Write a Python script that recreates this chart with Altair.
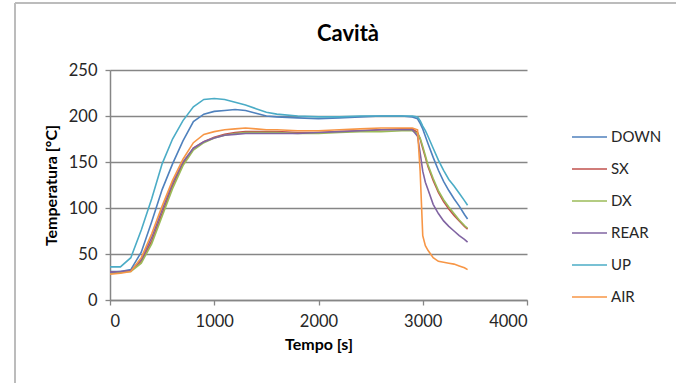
import altair as alt
import pandas as pd

series = ["DOWN", "SX", "DX", "REAR", "UP", "AIR"]
colors = ["#4F81BD", "#C0504D", "#9BBB59", "#8064A2", "#4BACC6", "#F79646"]

time_s = [0, 100, 200, 300, 400, 500, 600, 700, 800, 900, 1000, 1100, 1200, 1300,
          1400, 1500, 1600, 1800, 2000, 2200, 2400, 2600, 2800, 2900, 2950, 2975,
          3000, 3025, 3050, 3100, 3150, 3200, 3250, 3300, 3350, 3400, 3430]

down = [31, 31, 33, 52, 85, 120, 148, 173, 194, 202, 205, 206, 207, 206,
        203, 200, 199, 198, 197, 198, 199, 200, 200, 199, 197, 192,
        186, 178, 170, 155, 141, 129, 119, 110, 102, 93, 88]
sx = [30, 30, 32, 42, 64, 94, 124, 148, 165, 172, 177, 180, 182, 183,
      183, 183, 183, 182, 182, 183, 184, 185, 186, 186, 182, 175,
      165, 155, 145, 130, 117, 107, 99, 92, 86, 80, 77]
dx = [29, 30, 31, 40, 61, 91, 121, 146, 163, 171, 176, 179, 181, 182,
      182, 182, 182, 181, 181, 182, 183, 183, 184, 184, 181, 176,
      167, 157, 147, 132, 119, 109, 101, 94, 87, 81, 78]
rear = [30, 31, 32, 44, 68, 98, 127, 150, 165, 172, 176, 179, 180, 181,
        181, 181, 181, 181, 182, 183, 184, 185, 185, 185, 178, 160,
        140, 128, 120, 104, 94, 86, 80, 75, 70, 66, 63]
up = [36, 36, 46, 76, 110, 148, 175, 195, 210, 218, 219, 218, 215, 212,
      208, 204, 202, 200, 199, 199, 200, 200, 200, 200, 199, 195,
      189, 184, 178, 165, 152, 141, 131, 124, 116, 108, 103]
air = [28, 29, 31, 46, 72, 102, 130, 153, 171, 180, 183, 185, 186, 187,
       186, 185, 185, 184, 184, 185, 186, 187, 187, 187, 185, 140,
       70, 59, 54, 46, 42, 41, 40, 39, 37, 35, 33]

values = {"DOWN": down, "SX": sx, "DX": dx, "REAR": rear, "UP": up, "AIR": air}

rows = []
for i, name in enumerate(series):
    for t, v in zip(time_s, values[name]):
        rows.append({"Tempo": t, "Temp": v, "Serie": name, "idx": i})
df = pd.DataFrame(rows)

FONT = "Lato"
GRAY = "#868686"
LBL = "#262626"

axis_common = dict(
    labelFont=FONT, titleFont=FONT, labelFontSize=16.5, titleFontSize=16,
    labelColor=LBL, titleColor="#000", titleFontWeight="bold",
    domainColor=GRAY, tickColor=GRAY, gridColor=GRAY, domainWidth=1.5,
    tickWidth=1.3, gridWidth=1.3, gridOpacity=1, tickSize=5, format="d",
)

lines = alt.Chart(df).mark_line(strokeWidth=1.6).encode(
    x=alt.X("Tempo:Q",
            scale=alt.Scale(domain=[0, 4000], nice=False),
            axis=alt.Axis(title="Tempo [s]", values=[0, 1000, 2000, 3000, 4000],
                          grid=False, labelPadding=8, titlePadding=7,
                          **axis_common)),
    y=alt.Y("Temp:Q",
            scale=alt.Scale(domain=[0, 250], nice=False),
            axis=alt.Axis(title="Temperatura [°C]", values=[0, 50, 100, 150, 200, 250],
                          grid=True, labelPadding=8, titlePadding=9,
                          **axis_common)),
    color=alt.Color("Serie:N",
                    scale=alt.Scale(domain=series, range=colors),
                    legend=alt.Legend(title=None, orient="none",
                                      legendX=461, legendY=51,
                                      symbolType="stroke", symbolSize=1225,
                                      symbolStrokeWidth=1.6,
                                      clipHeight=32, rowPadding=0,
                                      labelOffset=3, labelFontSize=15,
                                      labelFont=FONT, labelColor=LBL)),
    order=alt.Order("idx:Q"),
    detail="Serie:N",
)

border_left = alt.Chart(df).mark_rule(color="#bdbdbd", strokeWidth=1.5).encode(
    x=alt.value(-95), y=alt.value(-67), y2=alt.value(320))
border_top = alt.Chart(df).mark_rule(color="#bdbdbd", strokeWidth=1.5).encode(
    x=alt.value(-95), x2=alt.value(570), y=alt.value(-67))

title = alt.Chart(pd.DataFrame({"t": ["Cavità"]})).mark_text(
    font=FONT, fontSize=22, fontWeight="bold", color="#000",
    align="center", baseline="middle").encode(
    text="t:N", x=alt.value(238), y=alt.value(-36))

chart = alt.layer(lines, border_left, border_top, title).properties(
    width=417, height=230,
    autosize=alt.AutoSizeParams(type="none"),
    padding={"left": 110, "top": 70, "right": 149, "bottom": 83},
    background="white",
).configure_view(stroke=None)

chart.save("out.html", embed_options={"renderer": "svg", "actions": False})
